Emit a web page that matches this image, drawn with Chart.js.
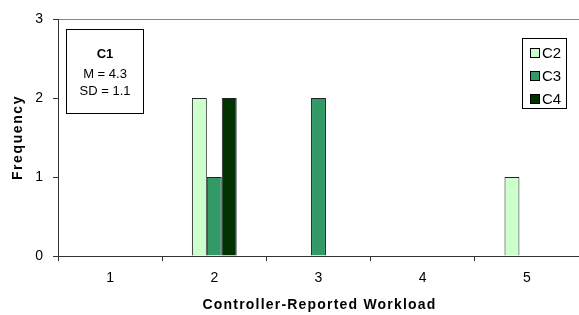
<!DOCTYPE html>
<html>
<head>
<meta charset="utf-8">
<script src="https://cdn.jsdelivr.net/npm/chart.js@4.4.0/dist/chart.umd.min.js"></script>
<style>
  html, body { margin: 0; padding: 0; background: #fff; }
  #wrap { width: 579px; height: 315px; position: relative; }
</style>
</head>
<body>
<div id="wrap"><canvas id="chart"></canvas></div>
<script>
// Data
const categories = ['1', '2', '3', '4', '5'];
const seriesNames = ['C2', 'C3', 'C4'];
const c2Values = [0, 2, 0, 0, 1];
const c3Values = [0, 1, 2, 0, 0];
const c4Values = [0, 2, 0, 0, 0];
const yTicks = [0, 1, 2, 3];
const infoLines = ['C1', 'M = 4.3', 'SD = 1.1'];
const xTitle = 'Controller-Reported Workload';
const yTitle = 'Frequency';

const seriesColors = ['#CCFFCC', '#339966', '#003300'];
const fontFamily = 'Arial, "Liberation Sans", sans-serif';

// Draws the axis titles, the C1 info box and the boxed legend
const annotations = {
    id: 'annotations',
    afterDraw(chart) {
        const ctx = chart.ctx;
        const area = chart.chartArea;
        ctx.save();
        ctx.fillStyle = '#000';
        ctx.textAlign = 'center';
        ctx.textBaseline = 'middle';

        // Axis titles (slightly spaced letters like the original)
        ctx.font = 'bold 14px ' + fontFamily;
        ctx.letterSpacing = '1.2px';
        ctx.fillText(xTitle, (area.left + area.right) / 2 + 1, 305);
        ctx.save();
        ctx.translate(18, (area.top + area.bottom) / 2);
        ctx.rotate(-Math.PI / 2);
        ctx.letterSpacing = '1.6px';
        ctx.fillText(yTitle, 0, 0);
        ctx.restore();
        ctx.letterSpacing = '0px';

        // C1 box
        ctx.strokeStyle = '#000';
        ctx.lineWidth = 1;
        ctx.strokeRect(66.5, 29.5, 77, 84);
        ctx.font = 'bold 13px ' + fontFamily;
        ctx.fillText(infoLines[0], 105, 54);
        ctx.font = '13px ' + fontFamily;
        ctx.fillText(infoLines[1], 105, 74);
        ctx.fillText(infoLines[2], 105, 91);

        // Legend
        ctx.strokeRect(522.5, 38.5, 44, 70);
        ctx.font = '15px ' + fontFamily;
        ctx.textAlign = 'left';
        seriesNames.forEach((name, i) => {
            const y = 53 + i * 23;
            ctx.fillStyle = seriesColors[i];
            ctx.fillRect(530, y - 5, 10, 10);
            ctx.strokeStyle = '#000';
            ctx.strokeRect(530.5, y - 4.5, 9, 9);
            ctx.fillStyle = '#000';
            ctx.fillText(name, 542, y + 1);
        });
        ctx.restore();
    }
};

const datasets = [c2Values, c3Values, c4Values].map((values, i) => ({
    label: seriesNames[i],
    data: values,
    backgroundColor: seriesColors[i],
    borderColor: '#222',
    borderWidth: 1,
    categoryPercentage: 0.43,
    barPercentage: 1.0,
}));

new Chart(document.getElementById('chart'), {
    type: 'bar',
    data: { labels: categories, datasets: datasets },
    options: {
        responsive: true,
        maintainAspectRatio: false,
        animation: false,
        layout: { padding: { top: 19, right: 0, left: 0, bottom: 0 } },
        plugins: {
            legend: { display: false },
            tooltip: { enabled: false },
        },
        scales: {
            x: {
                grid: {
                    offset: true,
                    drawOnChartArea: false,
                    drawTicks: true,
                    tickLength: 5,
                    tickColor: '#333',
                },
                border: { color: '#333', width: 1 },
                ticks: {
                    color: '#000',
                    padding: 9,
                    font: { size: 14, family: fontFamily },
                },
                afterFit(scale) { scale.height = 59; },
            },
            y: {
                min: 0,
                max: 3,
                afterBuildTicks(scale) {
                    scale.ticks = yTicks.map(v => ({ value: v }));
                },
                grid: {
                    color: ctx => (ctx.tick && ctx.tick.value === 3 ? '#888' : 'rgba(0,0,0,0)'),
                    drawTicks: true,
                    tickLength: 5,
                    tickColor: '#333',
                },
                border: { color: '#333', width: 1 },
                ticks: {
                    color: '#000',
                    padding: 10,
                    font: { size: 14, family: fontFamily },
                },
                afterFit(scale) { scale.width = 58; },
            },
        },
    },
    plugins: [annotations],
});
</script>
</body>
</html>
